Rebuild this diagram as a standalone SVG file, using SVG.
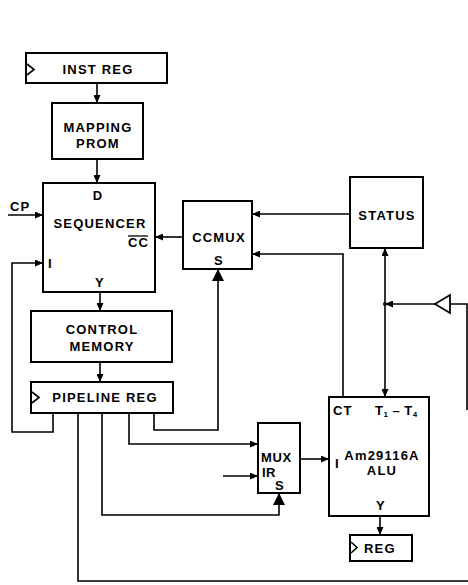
<svg xmlns="http://www.w3.org/2000/svg" width="468" height="585" viewBox="0 0 468 585">
<defs>
<style>
.box{fill:#fff;stroke:#000;stroke-width:2}
.ln{fill:none;stroke:#000;stroke-width:1.6}
.clk{fill:none;stroke:#000;stroke-width:1.6}
text{font-family:"Liberation Sans",Arial,sans-serif;font-weight:bold;font-size:13px;letter-spacing:1.2px;fill:#000}
.c{text-anchor:middle}
</style>
<marker id="a" markerUnits="userSpaceOnUse" markerWidth="8" markerHeight="7" refX="8" refY="3.5" orient="auto-start-reverse"><path d="M0,0 L8,3.5 L0,7 z" fill="#000"/></marker>
<marker id="b" markerUnits="userSpaceOnUse" markerWidth="12" markerHeight="12" refX="12" refY="6" orient="auto"><path d="M0,0 L12,6 L0,12 z" fill="#000"/></marker>
</defs>
<rect width="468" height="585" fill="#fff"/>
<g id="connectors">
<path class="ln" d="M97,83 V103" marker-end="url(#a)"/>
<path class="ln" d="M97,159 V183" marker-end="url(#a)"/>
<path class="ln" d="M8,215 H43" marker-end="url(#a)"/>
<path class="ln" d="M183,237 H155" marker-end="url(#a)"/>
<path class="ln" d="M350,214 H252" marker-end="url(#a)"/>
<path class="ln" d="M343,397 V254 H252" marker-end="url(#a)"/>
<path class="ln" d="M385,248 V397" marker-start="url(#a)" marker-end="url(#a)"/>
<path class="ln" d="M467,410 V304 H450"/>
<path class="ln" d="M435,304 H385" marker-end="url(#a)"/>
<circle cx="385" cy="304" r="2" fill="#000"/>
<path class="ln" d="M100,292 V311" marker-end="url(#a)"/>
<path class="ln" d="M100,362 V382" marker-end="url(#a)"/>
<path class="ln" d="M53,413 V432 H12 V263 H43" marker-end="url(#a)"/>
<path class="ln" d="M78,413 V581 H468"/>
<path class="ln" d="M102,413 V515 H279 V493" marker-end="url(#b)"/>
<path class="ln" d="M129,413 V444 H258" marker-end="url(#a)"/>
<path class="ln" d="M154,413 V430 H218 V269" marker-end="url(#b)"/>
<path class="ln" d="M223,476 H258" marker-end="url(#a)"/>
<path class="ln" d="M300,459 H329" marker-end="url(#a)"/>
<path class="ln" d="M380,516 V535" marker-end="url(#a)"/>
</g>
<g id="buffer">
<polygon points="435,304 450,295 450,313" fill="#fff" stroke="#000" stroke-width="1.8"/>
</g>
<g id="inst-reg">
<rect class="box" x="26" y="53" width="141" height="30"/>
<polyline class="clk" points="27,64 34,69.5 27,75"/>
<text class="c" x="98" y="74">INST REG</text>
</g>
<g id="mapping-prom">
<rect class="box" x="52" y="103" width="91" height="56"/>
<text class="c" x="98" y="132">MAPPING</text>
<text class="c" x="98" y="148">PROM</text>
</g>
<g id="sequencer">
<rect class="box" x="43" y="183" width="112" height="109"/>
<text class="c" x="98" y="200">D</text>
<text class="c" x="100" y="228">SEQUENCER</text>
<text x="128" y="247">CC</text>
<line x1="128" y1="236" x2="148" y2="236" stroke="#000" stroke-width="1.3"/>
<text x="48" y="268">I</text>
<text class="c" x="100" y="287">Y</text>
<text x="10" y="211">CP</text>
</g>
<g id="ccmux">
<rect class="box" x="183" y="201" width="69" height="68"/>
<text class="c" x="219" y="242">CCMUX</text>
<text class="c" x="219" y="265">S</text>
</g>
<g id="status">
<rect class="box" x="350" y="177" width="73" height="71"/>
<text class="c" x="387" y="220">STATUS</text>
</g>
<g id="control-memory">
<rect class="box" x="31" y="311" width="141" height="51"/>
<text class="c" x="102" y="334">CONTROL</text>
<text class="c" x="102" y="351">MEMORY</text>
</g>
<g id="pipeline-reg">
<rect class="box" x="31" y="382" width="142" height="31"/>
<polyline class="clk" points="32,392 39,397.5 32,403"/>
<text class="c" x="105" y="402">PIPELINE REG</text>
</g>
<g id="mux">
<rect class="box" x="258" y="423" width="42" height="70"/>
<text x="261" y="462" style="letter-spacing:0.6px">MUX</text>
<text x="262" y="477" style="letter-spacing:0.3px">IR</text>
<text class="c" x="280" y="490">S</text>
</g>
<g id="alu">
<rect class="box" x="329" y="397" width="100" height="119"/>
<text x="333" y="415">CT</text>
<text x="375" y="415" style="letter-spacing:0.5px">T<tspan font-size="8" dy="2">1</tspan><tspan dy="-2"> – T</tspan><tspan font-size="8" dy="2">4</tspan></text>
<text x="335" y="468" font-size="8">I</text>
<text class="c" x="382" y="460">Am29116A</text>
<text class="c" x="382" y="475">ALU</text>
<text class="c" x="381" y="510">Y</text>
</g>
<g id="reg">
<rect class="box" x="350" y="535" width="62" height="26"/>
<polyline class="clk" points="351,542 357,547.5 351,553"/>
<text x="364" y="553">REG</text>
</g>
</svg>
